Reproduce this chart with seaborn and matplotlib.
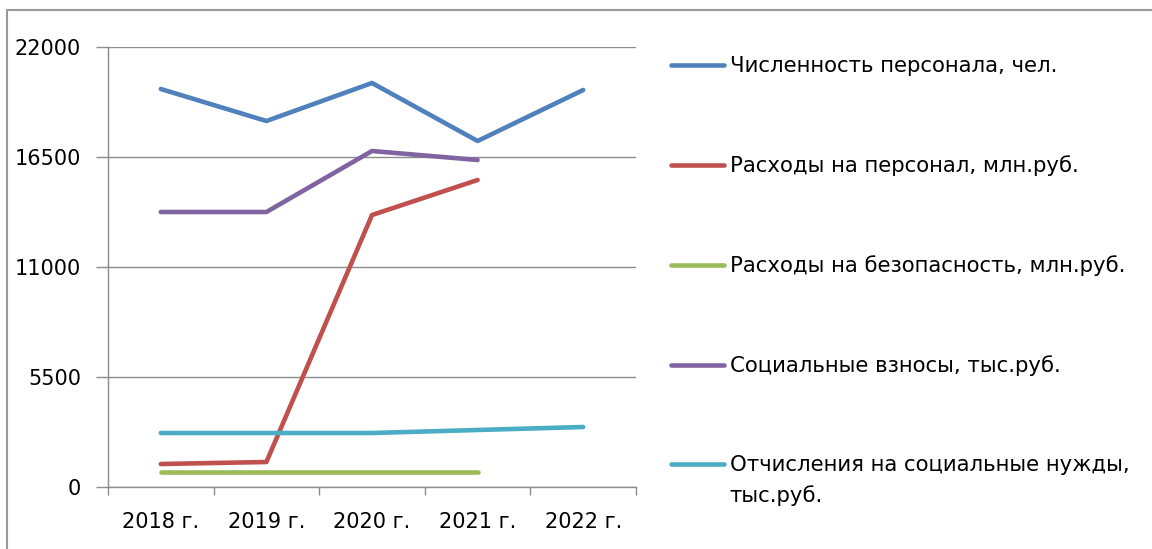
import matplotlib
matplotlib.use("Agg")
import matplotlib.pyplot as plt
from matplotlib.lines import Line2D
import numpy as np
import pandas as pd
import seaborn as sns

years = ["2018 г.", "2019 г.", "2020 г.", "2021 г.", "2022 г."]
staff_count = [19900, 18300, 20200, 17300, 19850]
staff_costs = [1150, 1250, 13600, 15350, np.nan]
security_costs = [750, 750, 750, 750, np.nan]
social_contrib = [13750, 13750, 16800, 16350, np.nan]
social_needs = [2700, 2700, 2700, 2850, 3000]

series_names = [
    "Численность персонала, чел.",
    "Расходы на персонал, млн.руб.",
    "Расходы на безопасность, млн.руб.",
    "Социальные взносы, тыс.руб.",
    "Отчисления на социальные нужды, тыс.руб.",
]
series_values = [staff_count, staff_costs, security_costs, social_contrib, social_needs]
colors = ["#4F81BD", "#C0504D", "#9BBB59", "#8064A2", "#4BACC6"]
yticks = [0, 5500, 11000, 16500, 22000]

rows = []
for name, vals in zip(series_names, series_values):
    for y, v in zip(years, vals):
        rows.append({"Год": y, "Значение": v, "Показатель": name})
df = pd.DataFrame(rows).dropna()

sns.set_style("white")
plt.rcParams["font.family"] = ["DejaVu Sans"]
plt.rcParams["text.color"] = "black"

W, H = 1152, 549
fig = plt.figure(figsize=(W / 100, H / 100), dpi=100)
ax = fig.add_axes([108 / W, 1 - 487 / H, (636 - 108) / W, (487 - 47) / H])

sns.lineplot(data=df, x="Год", y="Значение", hue="Показатель",
             hue_order=series_names, palette=colors, linewidth=3.3,
             sort=False, ax=ax, legend=True)

ax.set_xlim(-0.5, 4.5)
ax.set_ylim(0, 22000)
ax.set_yticks(yticks)
ax.set_yticklabels([str(t) for t in yticks])
ax.set_xlabel("")
ax.set_ylabel("")

gridc = "#8C8C8C"
ax.yaxis.grid(True, color=gridc, linewidth=1.0)
ax.xaxis.grid(False)
ax.set_axisbelow(True)
for s in ["top", "right"]:
    ax.spines[s].set_visible(False)
for s in ["left", "bottom"]:
    ax.spines[s].set_color(gridc)
    ax.spines[s].set_linewidth(1.0)

ax.tick_params(axis="y", length=8.5, width=1.0, color=gridc, pad=11,
               labelsize=15, labelcolor="black", left=True)
ax.set_xticks(range(len(years)))
ax.set_xticklabels(years)
ax.tick_params(axis="x", which="major", length=0, pad=18, labelsize=15,
               labelcolor="black")
ax.set_xticks(np.arange(-0.5, len(years), 1.0), minor=True)
ax.tick_params(axis="x", which="minor", length=6, width=1.0, color=gridc,
               bottom=True)

handles, labels = ax.get_legend_handles_labels()
ax.get_legend().remove()
leg_labels = list(labels)
leg_labels[-1] = "Отчисления на социальные нужды,"
leg = fig.legend(handles, leg_labels, loc="upper left",
                 bbox_to_anchor=(662 / W, 1 - 48 / H), frameon=False,
                 fontsize=15.3, labelspacing=3.72, handlelength=2.5,
                 handletextpad=0.3, borderaxespad=0, labelcolor="black")
for h in leg.get_lines():
    h.set_linewidth(3.3)
fig.text(729 / W, 1 - 496 / H, "тыс.руб.", fontsize=15.3, va="center",
         ha="left", color="black")

framec = "#9A9A9A"
fig.add_artist(Line2D([7 / W, 7 / W], [0, 1 - 10 / H], transform=fig.transFigure,
                      color=framec, linewidth=1.5))
fig.add_artist(Line2D([7 / W, 1.0], [1 - 10 / H, 1 - 10 / H], transform=fig.transFigure,
                      color=framec, linewidth=1.5))

fig.savefig("out.png", dpi=100)
